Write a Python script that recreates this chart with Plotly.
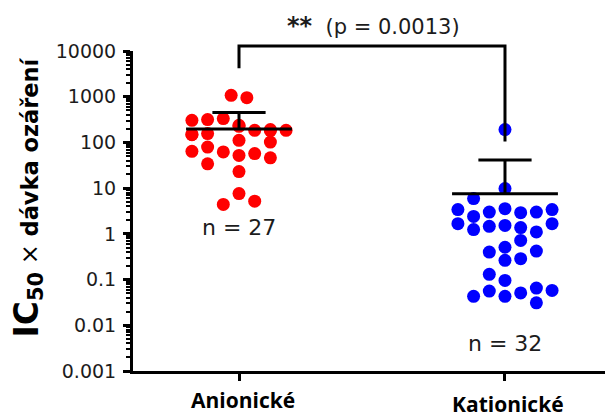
import numpy as np
import plotly.graph_objects as go

# IC50 x irradiation dose, one value per compound
groups = ["Anionické", "Kationické"]
anionic_values = [1075, 955, 305, 316, 332, 237, 184, 191, 184, 148, 156, 111, 102,
                  64, 79, 62, 52, 57, 46, 34, 23, 7.6, 4.4, 5.2, 225, 180, 150]
cationic_values = [191, 9.8, 5.9, 3.4, 3.0, 3.56, 2.91, 3.0, 3.4, 1.67, 2.41, 1.24,
                   1.46, 1.53, 1.37, 1.10, 1.67, 0.72, 0.40, 0.51, 0.263, 0.286, 0.42,
                   0.130, 0.096, 0.043, 0.056, 0.043, 0.051, 0.065, 0.058, 0.031]
# beeswarm column slot of each point (half-column units)
anionic_slots = [-1, 1, -6, -4, -2, 0, 2, 4, 6, -6, -4, 0, 4,
                 -6, -4, -2, 0, 2, 4, -4, 0, 0, -2, 2, 0, 4, -6]
cationic_slots = [0, 0, -4, -6, -2, 0, 2, 4, 6, -6, -4, -4,
                  -2, 0, 2, 4, 6, 2, -2, 0, 0, 2, 4,
                  -2, 0, -4, -2, 0, 2, 4, 6, 4]
p_value_text = "(p = 0.0013)"
y_tickvals = [0.001, 0.01, 0.1, 1, 10, 100, 1000, 10000]
y_ticktext = ["0.001", "0.01", "0.1", "1", "10", "100", "1000", "10000"]

SLOT = 0.0295
MEAN_HALF = 0.199
CAP_HALF = 0.10
TXT = "#1c1c1c"

fig = go.Figure()

series = [
    (anionic_values, anionic_slots, "#ff0000"),
    (cationic_values, cationic_slots, "#0000ff"),
]
for i, (vals, slots, color) in enumerate(series):
    xs = [i + s * SLOT for s in slots]
    fig.add_trace(go.Scatter(
        x=xs, y=vals, mode="markers",
        marker=dict(size=13, color=color, line=dict(width=0)),
        showlegend=False, hoverinfo="y",
    ))

# mean line with +SD whisker for each group
for i, (vals, slots, color) in enumerate(series):
    v = np.array(vals, dtype=float)
    m = v.mean()
    sd = v.std(ddof=1)
    fig.add_trace(go.Scatter(
        x=[i - MEAN_HALF, i + MEAN_HALF, None, i, i, None, i - CAP_HALF, i + CAP_HALF],
        y=[m, m, None, m, m + sd, None, m + sd, m + sd],
        mode="lines", line=dict(color="black", width=3),
        showlegend=False, hoverinfo="skip",
    ))

# significance bracket (log10 levels expressed in paper units)
def paper_y(log_v):
    return (log_v + 3) / 7

bracket_top = 4.11
fig.add_shape(type="path", xref="x", yref="paper",
              path=f"M 0 {paper_y(3.62)} L 0 {paper_y(bracket_top)} "
                   f"L 1 {paper_y(bracket_top)} L 1 {paper_y(2.02)}",
              line=dict(color="black", width=3))

fig.add_annotation(x=0.505, xref="x", y=1.079, yref="paper",
                   text="<b><span style='font-size:24px'>**</span></b>  " + p_value_text,
                   showarrow=False,
                   font=dict(family="DejaVu Sans", size=21, color=TXT),
                   xanchor="center", yanchor="middle")

# group sizes
fig.add_annotation(x=0, xref="x", y=0.447, yref="paper",
                   text=f"n = {len(anionic_values)}", showarrow=False,
                   font=dict(family="DejaVu Sans", size=22, color=TXT),
                   xanchor="center", yanchor="middle")
fig.add_annotation(x=1, xref="x", y=0.0875, yref="paper",
                   text=f"n = {len(cationic_values)}", showarrow=False,
                   font=dict(family="DejaVu Sans", size=22, color=TXT),
                   xanchor="center", yanchor="middle")

# category labels
for i, (label, ypos, dx) in enumerate(zip(groups, [-0.091, -0.102], [0.015, 0.012])):
    fig.add_annotation(x=i + dx, xref="x", y=ypos, yref="paper",
                       text=f"<b>{label}</b>", showarrow=False,
                       font=dict(family="Open Sans", size=21, color="black"),
                       xanchor="center", yanchor="middle")

# y axis title
fig.add_annotation(x=-0.2225, xref="paper", y=0.542, yref="paper",
                   text="<b><span style='font-size:33px'>IC</span>"
                        "<sub><span style='font-size:21px'>50</span></sub></b>"
                        "<span style='font-size:24px'> × </span><b>dávka ozáření</b>",
                   textangle=-90, showarrow=False,
                   font=dict(family="DejaVu Sans", size=22.5, color="black"),
                   xanchor="center", yanchor="middle")

minor_vals = [m * 10.0 ** e for e in range(-3, 4) for m in range(2, 10)]

fig.update_layout(
    width=605, height=418,
    margin=dict(l=133, r=0, t=51, b=47),
    paper_bgcolor="white", plot_bgcolor="white",
    xaxis=dict(
        range=[-0.3985, 1.376], showgrid=False, zeroline=False,
        showline=True, linecolor="black", linewidth=3,
        tickmode="array", tickvals=[0, 1], showticklabels=False,
        ticks="outside", ticklen=7, tickwidth=3, tickcolor="black",
    ),
    yaxis=dict(
        type="log", range=[-3, 4], showgrid=False, zeroline=False,
        showline=True, linecolor="black", linewidth=3,
        tickmode="array", tickvals=y_tickvals, ticktext=y_ticktext,
        ticks="outside", ticklen=7, tickwidth=3, tickcolor="black",
        ticklabelstandoff=3,
        tickfont=dict(family="DejaVu Sans", size=19, color=TXT),
        minor=dict(tickvals=minor_vals, ticks="outside", ticklen=4,
                   tickwidth=1.5, tickcolor="black", showgrid=False),
    ),
)

fig.write_html("out.html")
